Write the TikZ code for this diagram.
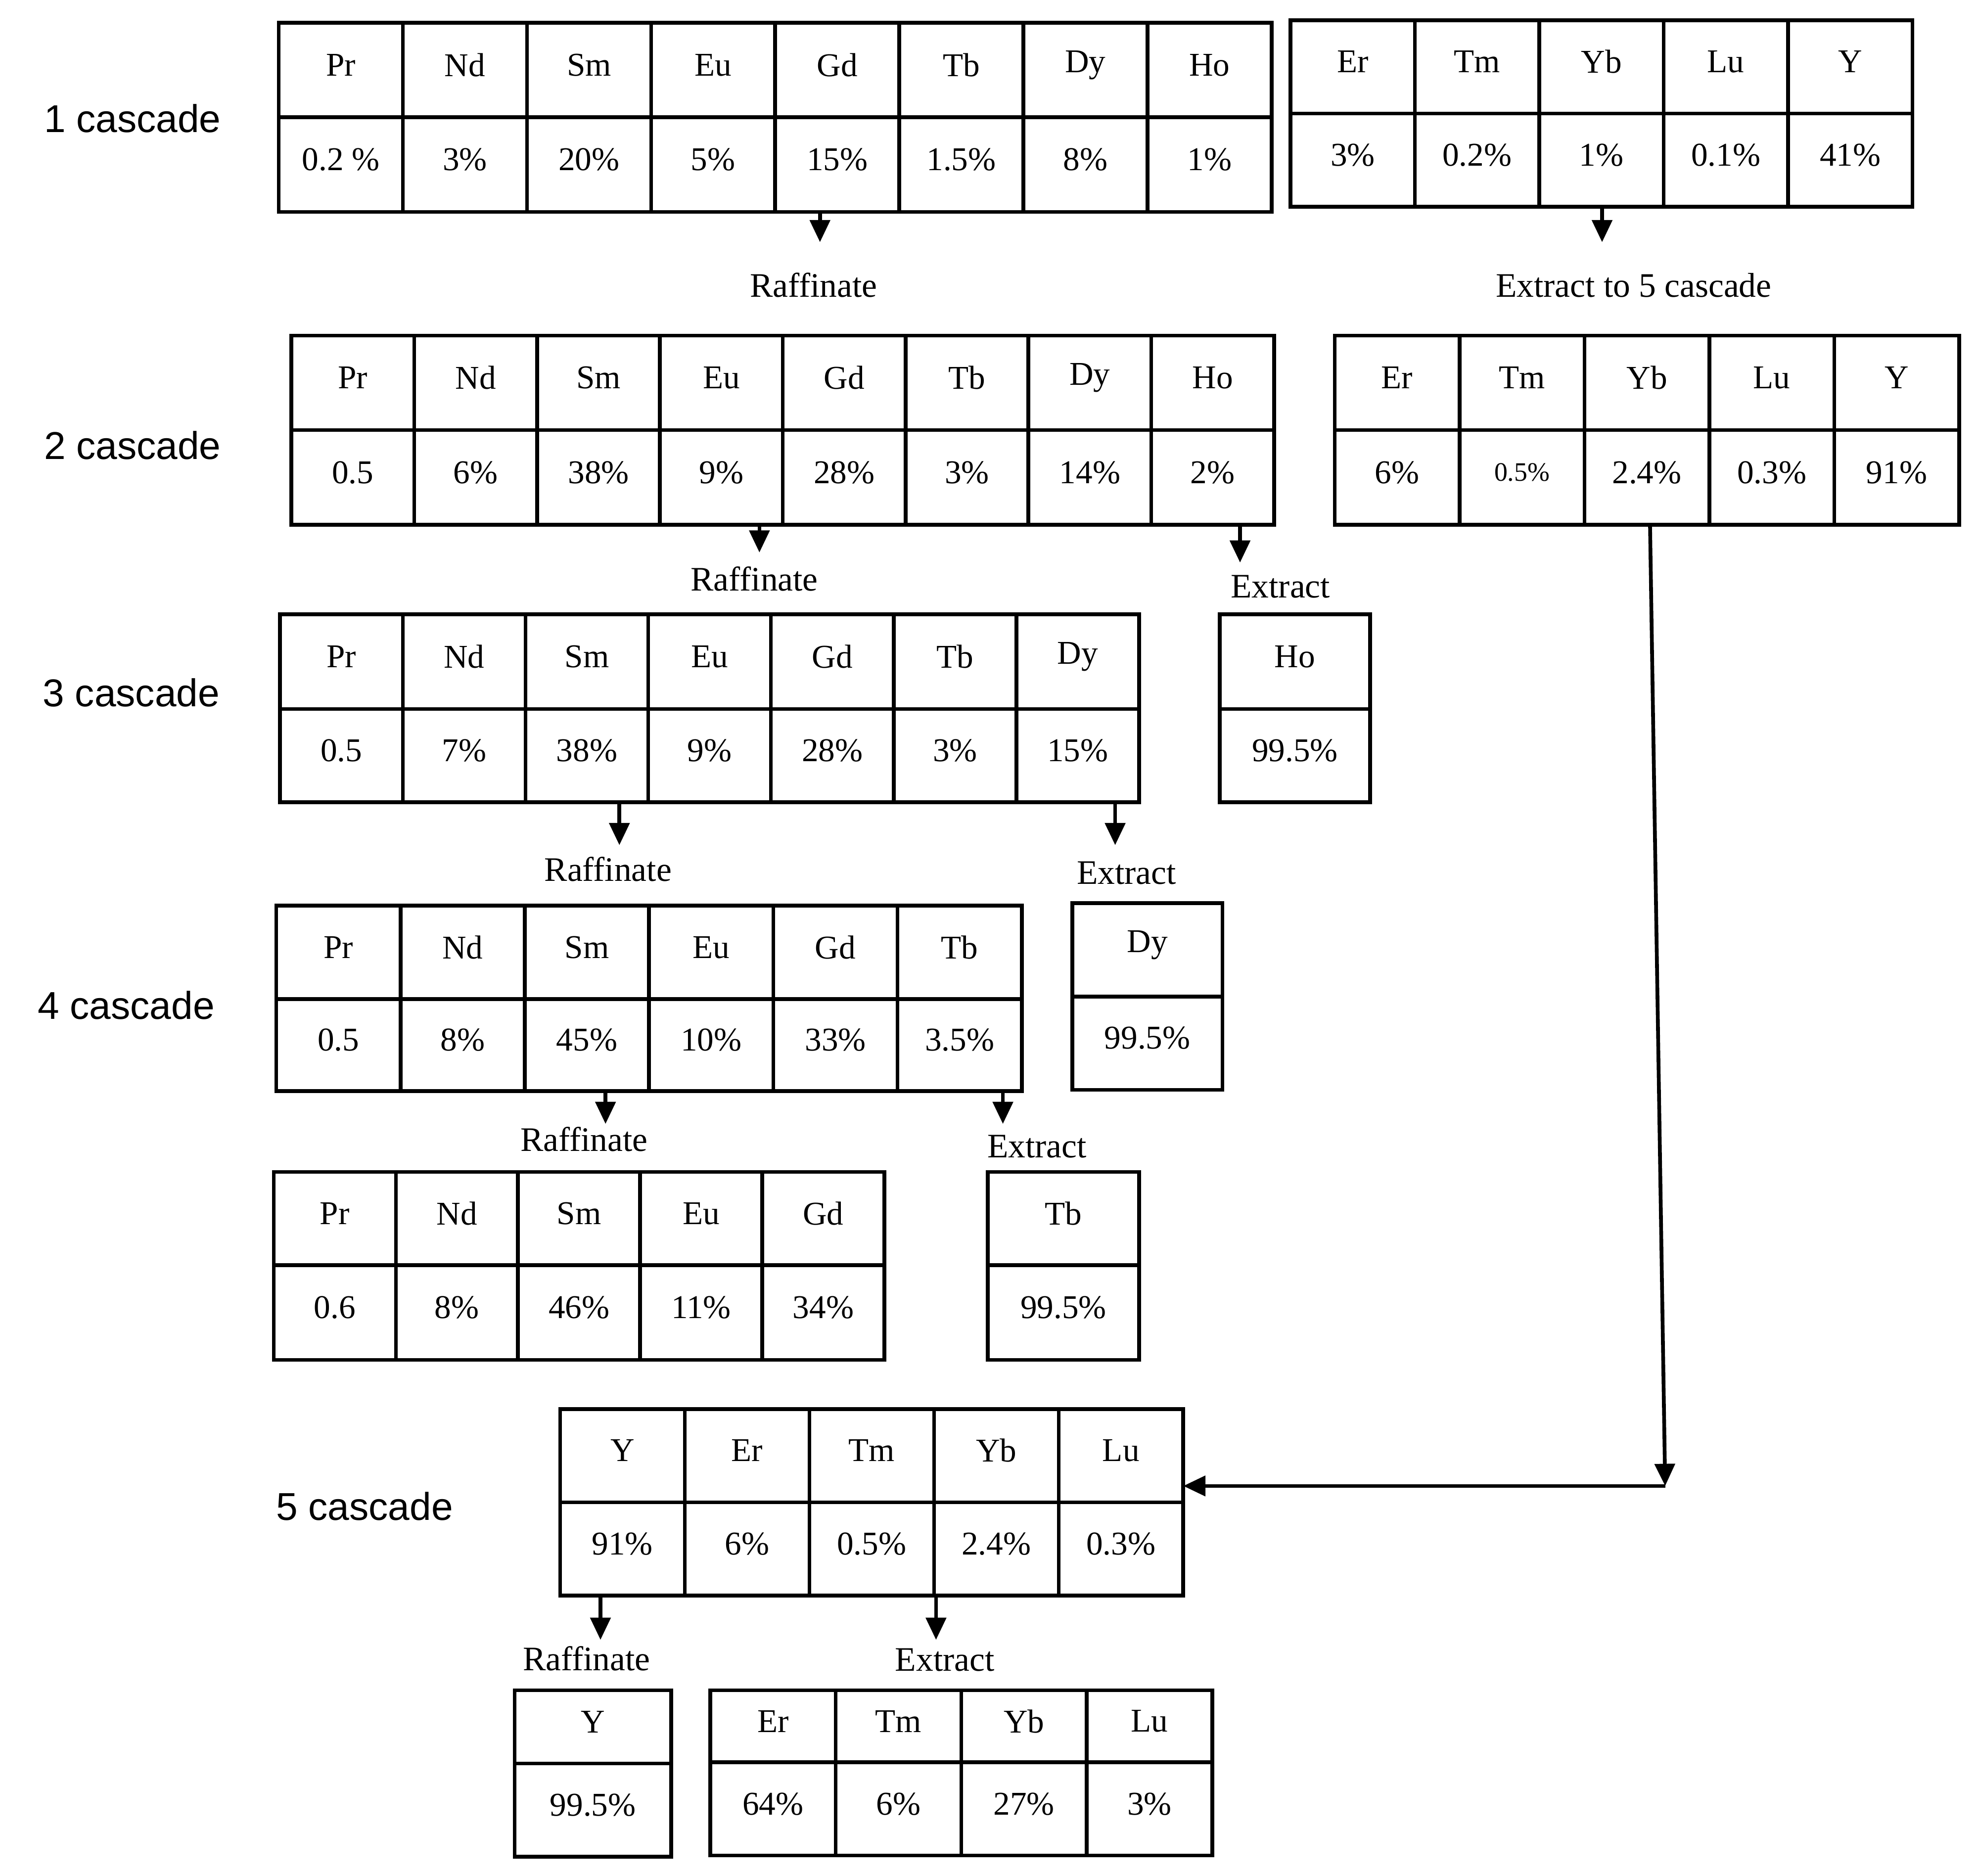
\documentclass[tikz,border=0pt]{standalone}
\usepackage{fontspec}
\setmainfont{Liberation Serif}
\newfontfamily\lblfont{Liberation Sans}
\usetikzlibrary{arrows.meta}
\newcommand\tbl[8]{%
 \foreach \nm [count=\i] in {#7} {%
  \pgfmathsetmacro\xa{#1+(\i-1)*(#2-#1)/#6}%
  \pgfmathsetmacro\xb{#1+\i*(#2-#1)/#6}%
  \draw[cellbox] (\xa,#3) rectangle (\xb,#4);
  \node[celltext] at ({(\xa+\xb)/2},{(#3+#4)/2-4}) {\nm};
 }%
 \foreach \vl [count=\i] in {#8} {%
  \pgfmathsetmacro\xa{#1+(\i-1)*(#2-#1)/#6}%
  \pgfmathsetmacro\xb{#1+\i*(#2-#1)/#6}%
  \draw[cellbox] (\xa,#4) rectangle (\xb,#5);
  \node[celltext] at ({(\xa+\xb)/2},{(#4+#5)/2-4}) {\vl};
 }}
\begin{document}
\begin{tikzpicture}[x=0.02cm,y=-0.02cm,
 cellbox/.style={line width=1.7pt},
 celltext/.style={font=\fontsize{15}{17}\selectfont},
 lbl/.style={font=\fontsize{15.5}{18}\selectfont},
 casc/.style={font=\lblfont\fontsize{17.5}{20}\selectfont},
 arr/.style={line width=1.7pt,-{Triangle[length=10pt,width=9pt]}}]
\useasboundingbox (0,0) rectangle (1568,1487);
% cascade labels
\node[casc] (c1) at (105,94) {1 cascade};
\node[casc] (c2) at (105,353) {2 cascade};
\node[casc] (c3) at (104,549) {3 cascade};
\node[casc] (c4) at (100,797) {4 cascade};
\node[casc] (c5) at (289,1194) {5 cascade};
% tables
\tbl{221}{1008}{18}{93}{168}{8}{Pr,Nd,Sm,Eu,Gd,Tb,Dy,Ho}{0.2 \%,3\%,20\%,5\%,15\%,1.5\%,8\%,1\%}
\tbl{1023}{1516}{16}{90}{164}{5}{Er,Tm,Yb,Lu,Y}{3\%,0.2\%,1\%,0.1\%,41\%}
\tbl{231}{1010}{266}{341}{416}{8}{Pr,Nd,Sm,Eu,Gd,Tb,Dy,Ho}{0.5,6\%,38\%,9\%,28\%,3\%,14\%,2\%}
\tbl{1058}{1553}{266}{341}{416}{5}{Er,Tm,Yb,Lu,Y}{6\%,{\fontsize{12}{14}\selectfont 0.5\%},2.4\%,0.3\%,91\%}
\tbl{222}{903}{487}{562}{636}{7}{Pr,Nd,Sm,Eu,Gd,Tb,Dy}{0.5,7\%,38\%,9\%,28\%,3\%,15\%}
\tbl{967}{1086}{487}{562}{636}{1}{Ho}{99.5\%}
\tbl{219}{810}{718}{792}{865}{6}{Pr,Nd,Sm,Eu,Gd,Tb}{0.5,8\%,45\%,10\%,33\%,3.5\%}
\tbl{850}{969}{716}{790}{864}{1}{Dy}{99.5\%}
\tbl{217}{701}{929}{1003}{1078}{5}{Pr,Nd,Sm,Eu,Gd}{0.6,8\%,46\%,11\%,34\%}
\tbl{783}{903}{929}{1003}{1078}{1}{Tb}{99.5\%}
\tbl{444}{938}{1117}{1191}{1265}{5}{Y,Er,Tm,Yb,Lu}{91\%,6\%,0.5\%,2.4\%,0.3\%}
\tbl{408}{532}{1340}{1398}{1472}{1}{Y}{99.5\%}
\tbl{563}{961}{1340}{1397}{1471}{4}{Er,Tm,Yb,Lu}{64\%,6\%,27\%,3\%}
% labels
\node[lbl] (r1) at (645,226) {Raffinate};
\node[lbl] (e1) at (1295,226) {Extract to 5 cascade};
\node[lbl] (r2) at (598,459) {Raffinate};
\node[lbl] (e2) at (1015,465) {Extract};
\node[lbl] (r3) at (482,689) {Raffinate};
\node[lbl] (e3) at (893,692) {Extract};
\node[lbl] (r4) at (463,903) {Raffinate};
\node[lbl] (e4) at (822,909) {Extract};
\node[lbl] (r5) at (465,1315) {Raffinate};
\node[lbl] (e5) at (749,1316) {Extract};
% arrows
\draw[arr] (650,168) -- (650,192);
\draw[arr] (1270,165) -- (1270,192);
\draw[arr] (602,416) -- (602,438);
\draw[arr] (983,416) -- (983,446);
\draw[arr] (491,636) -- (491,670);
\draw[arr] (884,636) -- (884,670);
\draw[arr] (480,865) -- (480,891);
\draw[arr] (795,865) -- (795,891);
\draw[arr] (476,1265) -- (476,1300);
\draw[arr] (742,1265) -- (742,1300);
\coordinate (turn) at (1320,1178);
\draw[arr] (1308,416) -- (turn);
\draw[arr] (turn) -- (938,1178);
\end{tikzpicture}
\end{document}
